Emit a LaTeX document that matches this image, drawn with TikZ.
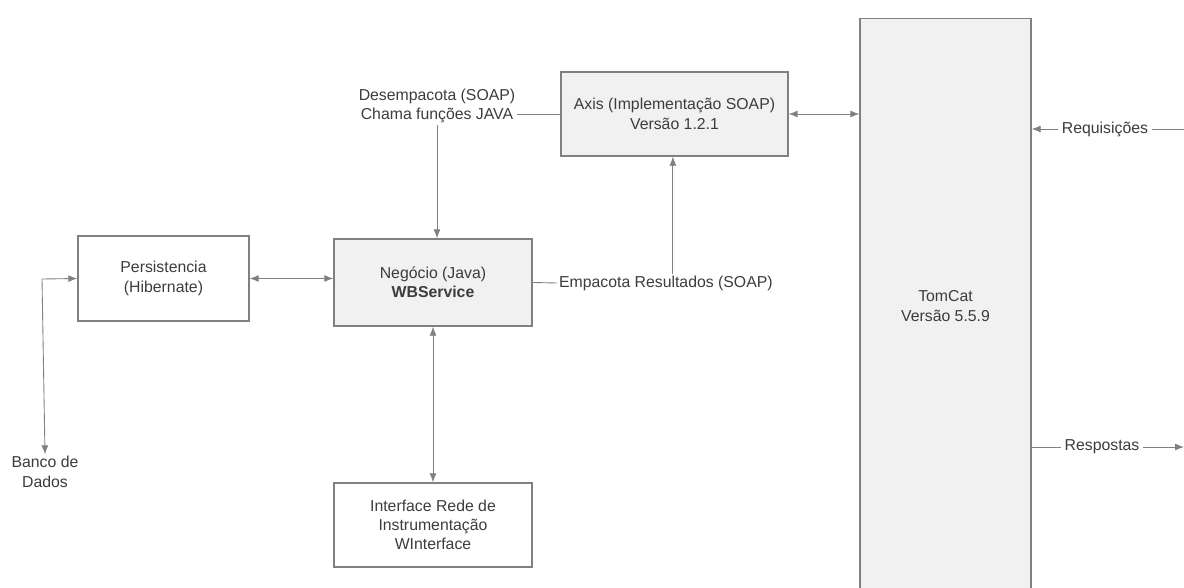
\documentclass[tikz,border=0pt]{standalone}
\usepackage{fontspec}
\setmainfont{Liberation Sans}
\usetikzlibrary{arrows.meta}
\definecolor{linegray}{HTML}{808080}
\definecolor{boxgray}{HTML}{F1F1F1}
\definecolor{txtgray}{HTML}{3C3C3C}
\tikzset{
  every node/.style={font=\fontsize{9}{11}\selectfont, text=txtgray, align=center},
  bloco/.style={draw=linegray, line width=0.8pt, inner sep=2pt},
  cinza/.style={bloco, fill=boxgray},
  liga/.style={draw=linegray, line width=0.5pt},
  seta/.style={liga, -{Latex[length=1.8mm,width=1.4mm]}},
  dupla/.style={liga, {Latex[length=1.8mm,width=1.4mm]}-{Latex[length=1.8mm,width=1.4mm]}}
}
\begin{document}
\begin{tikzpicture}[x=0.02cm, y=-0.02cm]
  \useasboundingbox (0,0) rectangle (1184,588);
  % caixas
  \node[cinza, minimum width=4.54cm, minimum height=1.68cm] (axis) at (674.5,114) {Axis (Implementação SOAP)\\Versão 1.2.1};
  \node[cinza, minimum width=3.42cm, minimum height=11.5cm] (tomcat) at (945.5,306) {TomCat\\Versão 5.5.9};
  \node[bloco, minimum width=3.42cm, minimum height=1.7cm] (pers) at (163.5,278.5) {Persistencia\\(Hibernate)};
  \node[cinza, minimum width=3.96cm, minimum height=1.74cm] (neg) at (433,282.5) {Negócio (Java)\\\textbf{WBService}};
  \node[bloco, minimum width=3.96cm, minimum height=1.68cm] (interf) at (433,525) {Interface Rede de\\Instrumentação\\WInterface};
  % rotulos
  \node[inner sep=1pt] (desemp) at (437,106) {Desempacota (SOAP)\\Chama funções JAVA};
  \node[inner sep=1pt, anchor=west] (emp) at (557,283) {Empacota Resultados (SOAP)};
  \node[inner sep=1pt] (banco) at (45,472) {Banco de\\Dados};
  \node[inner sep=2pt] (reql) at (1105,129) {Requisições};
  \node[inner sep=2pt] (resl) at (1102,447) {Respostas};
  \coordinate (db) at (42,279);
  \coordinate (req) at (1184,129);
  \coordinate (res) at (1184,447);
  % ligacoes
  \draw[liga] (desemp.east |- axis.west) -- (axis.west);
  \draw[seta] (desemp.south) -- (desemp.south |- neg.north);
  \draw[liga] (neg.east) -- (emp.west);
  \draw[seta] ([xshift=0.14cm]emp.north) -- ([xshift=0.14cm]emp.north |- axis.south);
  \draw[dupla] (axis.east) -- (axis.east -| tomcat.west);
  \draw[dupla] (pers.east) -- (pers.east -| neg.west);
  \draw[dupla] (neg.south) -- (interf.north);
  \draw[seta] (db) -- (pers.west);
  \draw[seta] (db) -- (banco.north);
  \draw[liga] (req) -- (reql.east);
  \draw[seta] (reql.west) -- (reql.west -| tomcat.east);
  \draw[liga] (resl.west -| tomcat.east) -- (resl.west);
  \draw[seta] (resl.east) -- (res);
\end{tikzpicture}
\end{document}
